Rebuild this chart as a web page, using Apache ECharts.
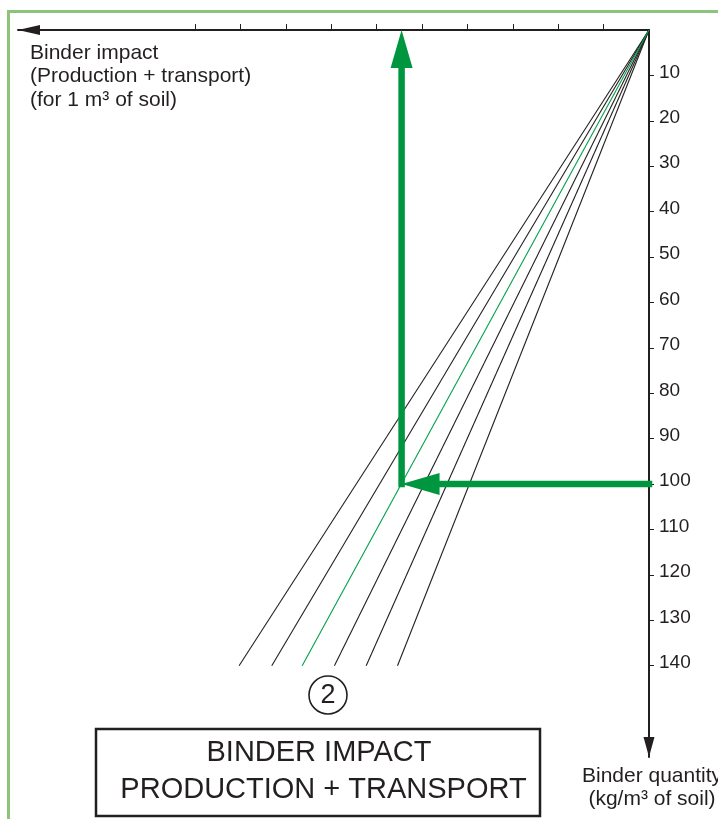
<!DOCTYPE html>
<html>
<head>
<meta charset="utf-8">
<script src="https://cdn.jsdelivr.net/npm/echarts@6/dist/echarts.min.js"></script>
<style>
  html, body { margin: 0; padding: 0; background: #fff; }
  #chart { width: 718px; height: 819px; }
</style>
</head>
<body>
<div id="chart"></div>
<script>
// values
const quantityTicks = [10, 20, 30, 40, 50, 60, 70, 80, 90, 100, 110, 120, 130, 140];
const impactTicks = [10, 20, 30, 40, 50, 60, 70, 80, 90, 100];
const fanEndQuantity = 140;
const fanEndImpact = [90.3, 83.1, 76.4, 69.3, 62.3, 55.4];
const highlighted = 2; // the green one
const readQuantity = 100;
const readImpact = 54.5;

const INK = '#231f20';
const GREEN = '#009640';
const FONT = '"Liberation Sans", Arial, sans-serif';

// px per unit is the same on both axes (about 4.54)
const xMax = 139;
const yMax = 160.1;

let series = [];
for (let i = 0; i < fanEndImpact.length; i++) {
    series.push({
        type: 'line',
        silent: true,
        symbol: 'none',
        data: [[0, 0], [fanEndImpact[i], fanEndQuantity]],
        lineStyle: { width: 1.1, color: i === highlighted ? '#00a14b' : INK },
        z: i === highlighted ? 3 : 2
    });
}

function arrowParts(p0, p1, headLen, headW, shaft, color) {
    const dx = p1[0] - p0[0], dy = p1[1] - p0[1];
    const len = Math.sqrt(dx * dx + dy * dy);
    const ux = dx / len, uy = dy / len;
    const bx = p1[0] - ux * headLen, by = p1[1] - uy * headLen;
    const nx = -uy, ny = ux;
    let parts = [];
    if (shaft > 0) {
        parts.push({
            type: 'line',
            shape: { x1: p0[0] - ux * shaft / 2, y1: p0[1] - uy * shaft / 2, x2: bx + ux, y2: by + uy },
            style: { stroke: color, lineWidth: shaft }
        });
    }
    parts.push({
        type: 'polygon',
        shape: { points: [[p1[0], p1[1]], [bx + nx * headW / 2, by + ny * headW / 2], [bx - nx * headW / 2, by - ny * headW / 2]] },
        style: { fill: color }
    });
    return parts;
}

// green reading arrows
series.push({
    type: 'custom',
    silent: true,
    renderItem: function (params, api) {
        const p0 = api.coord([api.value(0), api.value(1)]);
        const p1 = api.coord([api.value(2), api.value(3)]);
        return { type: 'group', children: arrowParts(p0, p1, 38, 22, 6.5, GREEN) };
    },
    encode: { x: [0, 2], y: [1, 3] },
    data: [
        [0, readQuantity, readImpact, readQuantity],
        [readImpact, readQuantity, readImpact, 0]
    ],
    z: 5
});

// axis arrow heads
const headSizes = [[22, 10], [20, 11]];
series.push({
    type: 'custom',
    silent: true,
    renderItem: function (params, api) {
        const p0 = api.coord([api.value(0), api.value(1)]);
        const p1 = api.coord([api.value(2), api.value(3)]);
        const s = headSizes[params.dataIndex];
        return { type: 'group', children: arrowParts(p0, p1, s[0], s[1], 0, INK) };
    },
    encode: { x: [0, 2], y: [1, 3] },
    data: [
        [0, 0, xMax, 0],
        [0, 0, 0, yMax]
    ],
    z: 4
});

const options = {
    animation: false,
    grid: { left: 18, right: 69, top: 30, bottom: 62 },
    xAxis: {
        type: 'value',
        position: 'top',
        inverse: true,
        min: 0,
        max: xMax,
        interval: 10,
        splitLine: { show: false },
        axisLine: { show: true, lineStyle: { color: INK, width: 2 } },
        axisTick: { show: true, length: 6, customValues: impactTicks, lineStyle: { color: INK, width: 1 } },
        axisLabel: { show: false }
    },
    yAxis: {
        type: 'value',
        position: 'right',
        inverse: true,
        min: 0,
        max: yMax,
        interval: 10,
        splitLine: { show: false },
        axisLine: { show: true, lineStyle: { color: INK, width: 2 } },
        axisTick: { show: true, length: 5, customValues: quantityTicks, lineStyle: { color: INK, width: 1 } },
        axisLabel: {
            customValues: quantityTicks,
            margin: 10,
            verticalAlign: 'bottom',
            lineHeight: 6,
            fontSize: 19,
            fontFamily: FONT,
            color: INK
        }
    },
    series: series,
    graphic: [
        {
            type: 'rect', silent: true, z: 0,
            shape: { x: 8.5, y: 11.5, width: 800, height: 900 },
            style: { fill: 'none', stroke: '#8dc47c', lineWidth: 3 }
        },
        {
            type: 'text', silent: true,
            style: {
                text: 'Binder impact\n(Production + transport)\n(for 1 m³ of soil)',
                x: 30, y: 41, font: '21px ' + FONT, lineHeight: 23.5,
                fill: INK, verticalAlign: 'top', align: 'left'
            }
        },
        {
            type: 'text', silent: true,
            style: {
                text: 'Binder quantity\n(kg/m³ of soil)',
                x: 652, y: 765, font: '21px ' + FONT, lineHeight: 23,
                fill: INK, verticalAlign: 'top', align: 'center'
            }
        },
        {
            type: 'circle', silent: true,
            shape: { cx: 328, cy: 695, r: 19 },
            style: { fill: 'none', stroke: INK, lineWidth: 1.6 }
        },
        {
            type: 'text', silent: true,
            style: { text: '2', x: 328, y: 696, font: '27px ' + FONT, fill: INK, align: 'center', verticalAlign: 'middle' }
        },
        {
            type: 'rect', silent: true,
            shape: { x: 96, y: 729, width: 444, height: 87 },
            style: { fill: 'none', stroke: INK, lineWidth: 2.5 }
        },
        {
            type: 'text', silent: true,
            style: { text: 'BINDER IMPACT', x: 319, y: 753, font: '29px ' + FONT, fill: INK, align: 'center', verticalAlign: 'middle' }
        },
        {
            type: 'text', silent: true,
            style: { text: 'PRODUCTION + TRANSPORT', x: 323.5, y: 790, font: '29px ' + FONT, fill: INK, align: 'center', verticalAlign: 'middle' }
        }
    ]
};

const chart = echarts.init(document.getElementById('chart'));
chart.setOption(options);
</script>
</body>
</html>
